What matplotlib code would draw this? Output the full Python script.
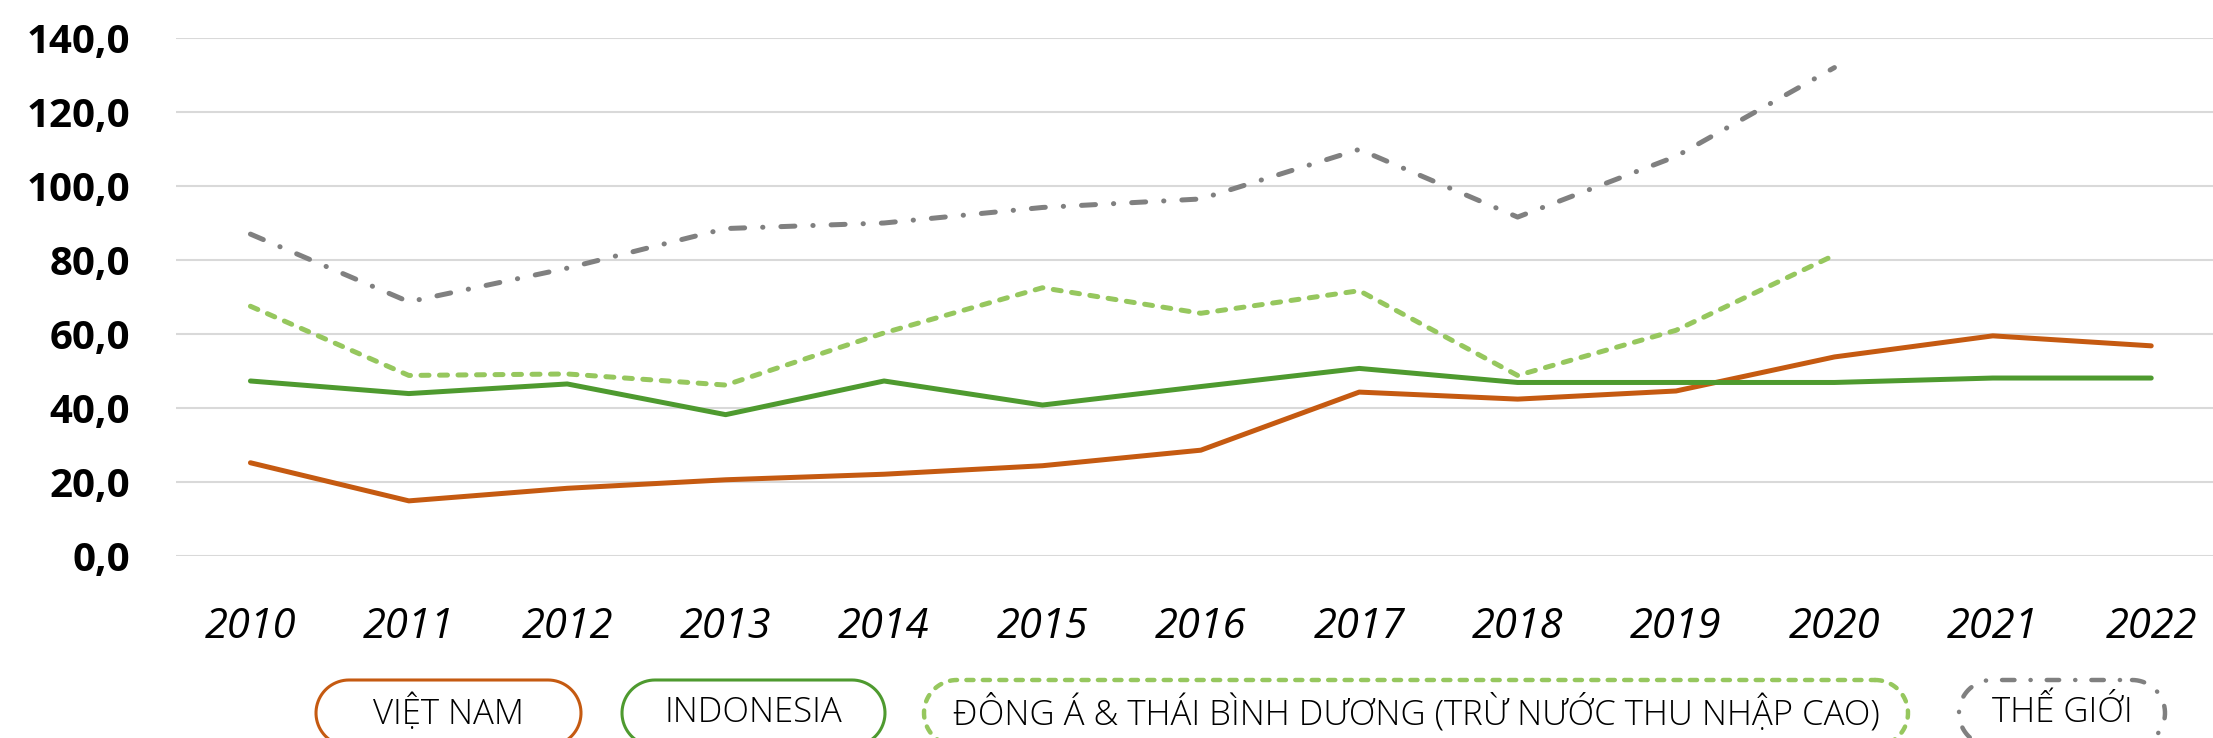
import matplotlib
matplotlib.use("Agg")
import numpy as np
import matplotlib.pyplot as plt
from matplotlib.patches import Polygon

years = ["2010", "2011", "2012", "2013", "2014", "2015", "2016",
         "2017", "2018", "2019", "2020", "2021", "2022"]
viet_nam = [25.2, 14.9, 18.3, 20.6, 22.1, 24.4, 28.6, 44.3, 42.4, 44.6, 53.8, 59.5, 56.8]
indonesia = [47.3, 43.9, 46.5, 38.2, 47.3, 40.8, 45.8, 50.7, 46.9, 46.9, 46.9, 48.1, 48.1]
dong_a = [67.5, 48.8, 49.2, 46.2, 60.3, 72.5, 65.6, 71.7, 48.8, 61.0, 81.3]
the_gioi = [87.0, 68.7, 77.8, 88.5, 90.0, 94.2, 96.5, 109.9, 91.6, 108.0, 132.0]
labels = ["VIỆT NAM", "INDONESIA",
          "ĐÔNG Á & THÁI BÌNH DƯƠNG (TRỪ NƯỚC THU NHẬP CAO)", "THẾ GIỚI"]
yticks = [0, 20, 40, 60, 80, 100, 120, 140]

colors = ["#C55A11", "#4E9A2F", "#96C75E", "#808080"]
dash_list = [None, None, (1.6, 2.1), (2.8, 3.6, 0.05, 3.6)]

plt.rcParams["font.family"] = ["Open Sans", "DejaVu Sans"]

W, H = 2213, 738
fig = plt.figure(figsize=(W / 100, H / 100), dpi=100)
ax = fig.add_axes([176 / W, 1 - 556 / H, 1 - 176 / W, (556 - 38) / H])

series = [viet_nam, indonesia, dong_a, the_gioi]
for vals, c, d in zip(series, colors, dash_list):
    x = list(range(len(vals)))
    line, = ax.plot(x, vals, color=c, lw=3.6, clip_on=False,
                    solid_capstyle="round", dash_capstyle="round")
    if d:
        line.set_dashes(d)

ax.set_xlim(-0.47, 12.39)
ax.set_ylim(0, 140)
ax.set_yticks(yticks)
ax.set_yticklabels([f"{v:.1f}".replace(".", ",") for v in yticks],
                   fontsize=29, fontweight="bold")
ax.set_xticks(range(len(years)))
ax.set_xticklabels(years, fontsize=30, style="italic", fontweight="medium")
ax.tick_params(length=0)
ax.tick_params(axis="y", pad=33)
ax.tick_params(axis="x", pad=36)
ax.grid(axis="y", color="#D9D9D9", lw=1.5)
ax.set_axisbelow(True)
for s in ax.spines.values():
    s.set_visible(False)


def pill(x0, x1, top, bot):
    # outline of a capsule: two semicircles joined by straight edges
    r = (bot - top) / 2
    cy = top + r
    t = np.linspace(-np.pi / 2, np.pi / 2, 40)
    right = np.column_stack([x1 - r + r * np.cos(t), cy + r * np.sin(t)])
    left = np.column_stack([x0 + r - r * np.cos(t), cy - r * np.sin(t)])
    return np.vstack([right, left])


# legend drawn on an overlay axes in pixel units (y measured from the top)
lax = fig.add_axes([0, 0, 1, 1], zorder=-1)
lax.set_xlim(0, W)
lax.set_ylim(H, 0)
lax.axis("off")
boxes = [(316, 581), (622, 885), (924, 1908), (1959, 2165)]
top, bot = 680, 746
for (x0, x1), lab, c, d in zip(boxes, labels, colors, dash_list):
    p = Polygon(pill(x0, x1, top, bot), closed=True, fc="white", ec=c,
                clip_on=False, lw=2.2 if d is None else 3.2)
    if d:
        p.set_linestyle((0, d))
        p.set_capstyle("round")
    lax.add_patch(p)
    lax.text((x0 + x1) / 2, (top + bot) / 2, lab, ha="center", va="center",
             fontsize=25, fontweight="light")

fig.savefig("out.png", dpi=100)
